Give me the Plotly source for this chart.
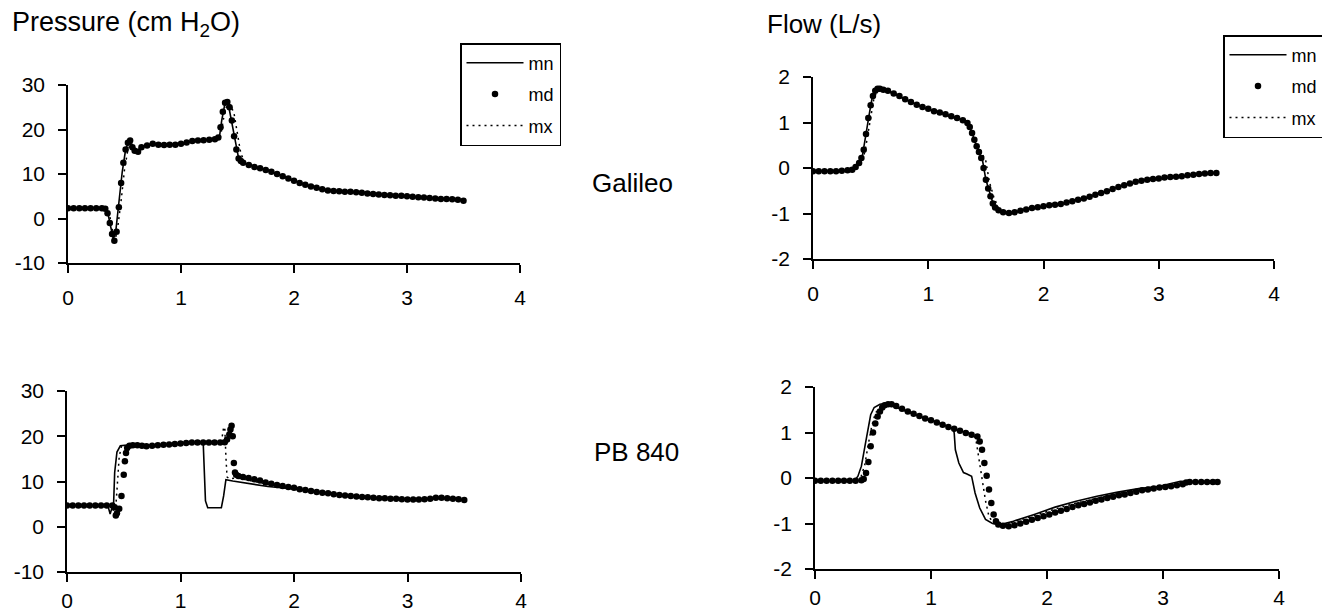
import plotly.graph_objects as go

# ---------------- data (time in s) ----------------
# Panel A: Galileo pressure (cm H2O)
mn_a = [(0.00,2.3),(0.33,2.3),(0.35,1.5),(0.38,-2.0),(0.40,-4.5),(0.42,-3.5),(0.45,3.0),(0.48,10.5),
        (0.51,15.5),(0.54,17.5),(0.57,15.8),(0.60,15.0),(0.63,15.5),(0.66,16.3),(0.72,16.5),(0.76,17.0),
        (0.79,16.6),(0.95,16.6),(1.02,16.8),(1.10,17.4),(1.30,17.8),(1.34,18.3),(1.36,22.0),(1.39,26.0),
        (1.42,25.5),(1.45,21.5),(1.48,17.0),(1.51,13.5),(1.55,12.5),(1.65,11.7),(1.77,10.8),(1.93,9.2),
        (2.09,7.7),(2.24,6.6),(2.34,6.2),(2.56,6.0),(2.72,5.5),(2.88,5.1),(3.03,5.0),(3.19,4.6),(3.35,4.4),(3.50,4.0)]
mx_a = [(0.00,2.3),(0.34,2.3),(0.37,0.5),(0.40,-3.5),(0.42,-4.5),(0.44,-2.0),(0.47,4.0),(0.50,11.0),
        (0.53,15.5),(0.56,17.0),(0.60,15.0),(0.64,15.8),(0.70,16.4),(0.80,16.6),(1.00,16.8),(1.10,17.4),
        (1.30,17.8),(1.35,18.5),(1.38,23.0),(1.41,25.8),(1.44,25.5),(1.47,23.5),(1.50,19.0),(1.53,14.5),
        (1.57,12.5),(1.65,11.7),(1.77,10.8),(1.93,9.2),(2.09,7.7),(2.24,6.6),(2.34,6.2),(2.56,6.0),
        (2.72,5.5),(2.88,5.1),(3.03,5.0),(3.19,4.6),(3.35,4.4),(3.50,4.0)]
md_a = [(0.00,2.3),(0.05,2.3),(0.10,2.3),(0.15,2.3),(0.20,2.3),(0.25,2.3),(0.30,2.3),(0.33,2.2),(0.35,1.2),
        (0.37,-1.0),(0.39,-3.5),(0.41,-5.0),(0.43,-3.0),(0.45,2.5),(0.47,8.0),(0.49,12.5),(0.51,15.5),
        (0.53,17.0),(0.55,17.5),(0.57,16.0),(0.59,15.2),(0.62,15.0),(0.65,16.0),(0.70,16.4),(0.75,16.8),
        (0.80,16.6),(0.85,16.5),(0.90,16.6),(0.95,16.6),(1.00,16.8),(1.05,17.1),(1.10,17.4),(1.15,17.5),
        (1.20,17.6),(1.25,17.7),(1.30,17.8),(1.33,18.2),(1.35,20.5),(1.37,24.0),(1.39,26.0),(1.41,26.2),
        (1.43,25.0),(1.45,22.0),(1.47,18.5),(1.49,15.5),(1.51,13.5),(1.53,12.9),(1.55,12.5),(1.60,12.0),
        (1.65,11.6),(1.70,11.3),(1.75,10.9),(1.80,10.5),(1.85,10.0),(1.90,9.5),(1.95,9.0),(2.00,8.5),
        (2.05,8.0),(2.10,7.6),(2.15,7.2),(2.20,6.9),(2.25,6.6),(2.30,6.3),(2.35,6.2),(2.40,6.1),(2.45,6.0),
        (2.50,6.0),(2.55,5.9),(2.60,5.8),(2.65,5.6),(2.70,5.5),(2.75,5.4),(2.80,5.3),(2.85,5.2),(2.90,5.1),
        (2.95,5.1),(3.00,5.0),(3.05,4.9),(3.10,4.8),(3.15,4.7),(3.20,4.6),(3.25,4.5),(3.30,4.4),(3.35,4.4),
        (3.40,4.3),(3.45,4.2),(3.50,4.0)]

# Panel B: PB 840 pressure (cm H2O)
mn_b = [(0.00,4.7),(0.36,4.7),(0.38,2.8),(0.40,4.5),(0.41,4.7),(0.42,12.0),(0.44,16.5),(0.47,17.9),
        (0.55,18.1),(0.65,17.9),(0.75,17.9),(0.85,18.1),(1.00,18.4),(1.10,18.6),(1.20,18.6),(1.21,11.0),
        (1.22,5.7),(1.24,4.2),(1.36,4.2),(1.38,6.8),(1.40,10.4),(1.46,10.1),(1.61,9.5),(1.77,8.9),
        (1.93,8.5),(2.09,8.0),(2.24,7.5),(2.40,7.0),(2.56,6.6),(2.72,6.4),(2.87,6.2),(3.03,6.0),
        (3.19,6.2),(3.35,6.3),(3.50,5.9)]
mx_b = [(0.00,4.7),(0.39,4.7),(0.41,3.5),(0.43,4.5),(0.44,8.0),(0.46,15.5),(0.48,17.8),(0.55,18.0),
        (0.75,17.9),(1.00,18.4),(1.20,18.6),(1.36,18.6),(1.38,22.0),(1.39,22.0),(1.40,15.5),(1.41,11.0),
        (1.43,10.6),(1.50,10.8),(1.61,10.2),(1.77,9.4),(1.93,8.8),(2.09,8.2),(2.24,7.6),(2.40,7.1),
        (2.56,6.7),(2.72,6.4),(2.87,6.2),(3.03,6.0),(3.19,6.2),(3.35,6.3),(3.50,5.9)]
md_b = [(0.00,4.7),(0.05,4.7),(0.10,4.7),(0.15,4.7),(0.20,4.7),(0.25,4.7),(0.30,4.7),(0.35,4.7),(0.40,4.7),
        (0.42,4.3),(0.43,2.5),(0.44,3.0),(0.46,4.0),(0.48,6.8),(0.50,11.5),(0.51,14.5),(0.52,16.3),
        (0.53,17.4),(0.55,17.9),(0.58,18.0),(0.62,18.0),(0.66,17.9),(0.70,17.8),(0.75,17.9),(0.80,18.0),
        (0.85,18.1),(0.90,18.2),(0.95,18.3),(1.00,18.4),(1.05,18.5),(1.10,18.6),(1.15,18.6),(1.20,18.6),
        (1.25,18.6),(1.30,18.6),(1.35,18.6),(1.39,18.7),(1.41,19.3),(1.43,20.4),(1.44,21.5),(1.45,22.3),
        (1.46,20.0),(1.47,14.1),(1.48,12.0),(1.49,11.5),(1.51,11.2),(1.55,11.0),(1.60,10.8),(1.65,10.5),
        (1.70,10.2),(1.75,9.8),(1.80,9.5),(1.85,9.2),(1.90,9.0),(1.95,8.8),(2.00,8.6),(2.05,8.3),
        (2.10,8.1),(2.15,7.9),(2.20,7.7),(2.25,7.5),(2.30,7.4),(2.35,7.2),(2.40,7.0),(2.45,6.9),(2.50,6.8),
        (2.55,6.7),(2.60,6.6),(2.65,6.5),(2.70,6.4),(2.75,6.3),(2.80,6.3),(2.85,6.2),(2.90,6.2),(2.95,6.1),
        (3.00,6.0),(3.05,6.0),(3.10,6.0),(3.15,6.1),(3.20,6.2),(3.25,6.4),(3.30,6.4),(3.35,6.3),(3.40,6.2),
        (3.45,6.1),(3.50,5.9)]

# Panel C: Galileo flow (L/s)
mn_c = [(0.00,-0.07),(0.33,-0.06),(0.35,-0.03),(0.40,0.11),(0.43,0.29),(0.45,0.62),(0.49,1.21),(0.51,1.50),
        (0.54,1.68),(0.57,1.74),(0.63,1.71),(0.72,1.61),(0.83,1.47),(0.94,1.34),(1.05,1.25),(1.16,1.17),
        (1.27,1.08),(1.34,0.99),(1.38,0.77),(1.43,0.40),(1.47,0.18),(1.50,-0.26),(1.54,-0.62),(1.57,-0.84),
        (1.63,-0.95),(1.70,-0.99),(1.81,-0.93),(1.95,-0.86),(2.10,-0.81),(2.28,-0.71),(2.46,-0.59),
        (2.64,-0.42),(2.82,-0.29),(3.00,-0.23),(3.19,-0.18),(3.37,-0.13),(3.49,-0.11)]
mx_c = [(0.00,-0.07),(0.35,-0.05),(0.41,0.08),(0.45,0.35),(0.47,0.65),(0.50,1.15),(0.53,1.55),(0.56,1.70),
        (0.59,1.73),(0.63,1.71),(0.72,1.61),(0.83,1.47),(0.94,1.34),(1.05,1.25),(1.16,1.17),(1.27,1.08),
        (1.34,0.99),(1.39,0.75),(1.45,0.40),(1.50,0.15),(1.53,-0.30),(1.57,-0.65),(1.61,-0.88),
        (1.66,-0.96),(1.72,-0.99),(1.81,-0.93),(1.95,-0.86),(2.10,-0.81),(2.28,-0.71),(2.46,-0.59),
        (2.64,-0.42),(2.82,-0.29),(3.00,-0.23),(3.19,-0.18),(3.37,-0.13),(3.49,-0.11)]
md_c = [(0.00,-0.07),(0.05,-0.07),(0.10,-0.07),(0.15,-0.07),(0.20,-0.07),(0.25,-0.06),(0.30,-0.05),
        (0.34,-0.04),(0.37,0.02),(0.40,0.11),(0.42,0.22),(0.44,0.40),(0.46,0.75),(0.48,1.10),(0.50,1.38),
        (0.52,1.58),(0.54,1.70),(0.56,1.74),(0.58,1.74),(0.61,1.72),(0.65,1.70),(0.70,1.64),(0.75,1.58),
        (0.80,1.51),(0.85,1.45),(0.90,1.39),(0.95,1.34),(1.00,1.30),(1.05,1.25),(1.10,1.22),(1.15,1.18),
        (1.20,1.14),(1.25,1.10),(1.30,1.05),(1.34,0.99),(1.36,0.90),(1.38,0.77),(1.40,0.62),(1.42,0.48),
        (1.44,0.35),(1.46,0.22),(1.48,0.00),(1.50,-0.26),(1.52,-0.45),(1.54,-0.62),(1.56,-0.78),
        (1.58,-0.87),(1.61,-0.93),(1.65,-0.97),(1.70,-0.99),(1.75,-0.97),(1.80,-0.94),(1.85,-0.91),
        (1.90,-0.88),(1.95,-0.86),(2.00,-0.84),(2.05,-0.82),(2.10,-0.81),(2.15,-0.79),(2.20,-0.76),
        (2.25,-0.73),(2.30,-0.70),(2.35,-0.67),(2.40,-0.63),(2.45,-0.59),(2.50,-0.55),(2.55,-0.51),
        (2.60,-0.46),(2.65,-0.42),(2.70,-0.38),(2.75,-0.34),(2.80,-0.30),(2.85,-0.28),(2.90,-0.26),
        (2.95,-0.24),(3.00,-0.23),(3.05,-0.21),(3.10,-0.20),(3.15,-0.19),(3.20,-0.18),(3.25,-0.16),
        (3.30,-0.15),(3.35,-0.13),(3.40,-0.12),(3.45,-0.11),(3.50,-0.11)]

# Panel D: PB 840 flow (L/s)
mn_d = [(0.00,-0.06),(0.34,-0.06),(0.37,0.04),(0.40,0.26),(0.43,0.69),(0.46,1.13),(0.48,1.39),(0.51,1.55),
        (0.56,1.62),(0.61,1.64),(0.70,1.55),(0.81,1.44),(0.99,1.28),(1.13,1.15),(1.19,1.09),(1.20,0.99),
        (1.21,0.62),(1.24,0.33),(1.28,0.12),(1.31,0.09),(1.35,0.04),(1.38,-0.33),(1.42,-0.66),(1.47,-0.91),
        (1.53,-1.00),(1.60,-1.02),(1.71,-0.95),(1.89,-0.80),(2.07,-0.64),(2.25,-0.51),(2.43,-0.40),
        (2.61,-0.31),(2.79,-0.23),(2.97,-0.18),(3.07,-0.11),(3.15,-0.07),(3.47,-0.09)]
mx_d = [(0.00,-0.06),(0.37,-0.06),(0.40,0.05),(0.43,0.30),(0.46,0.75),(0.49,1.15),(0.52,1.42),(0.56,1.56),
        (0.61,1.62),(0.70,1.55),(0.81,1.45),(0.99,1.29),(1.13,1.16),(1.30,1.02),(1.37,0.96),(1.39,0.80),
        (1.41,0.45),(1.44,0.00),(1.47,-0.50),(1.50,-0.85),(1.54,-1.00),(1.60,-1.03),(1.71,-0.97),
        (1.89,-0.83),(2.07,-0.68),(2.25,-0.55),(2.43,-0.44),(2.61,-0.34),(2.79,-0.26),(2.97,-0.20),
        (3.10,-0.15),(3.12,-0.10),(3.47,-0.09)]
md_d = [(0.00,-0.06),(0.05,-0.06),(0.10,-0.06),(0.15,-0.06),(0.20,-0.06),(0.25,-0.06),(0.30,-0.06),
        (0.35,-0.06),(0.40,-0.05),(0.42,-0.02),(0.44,0.11),(0.46,0.35),(0.48,0.70),(0.50,1.00),(0.52,1.20),
        (0.54,1.35),(0.56,1.46),(0.58,1.55),(0.60,1.60),(0.63,1.62),(0.66,1.62),(0.70,1.58),(0.75,1.52),
        (0.80,1.46),(0.85,1.41),(0.90,1.36),(0.95,1.31),(1.00,1.27),(1.05,1.22),(1.10,1.17),(1.15,1.12),
        (1.20,1.08),(1.25,1.04),(1.30,0.99),(1.35,0.95),(1.40,0.91),(1.42,0.80),(1.44,0.62),(1.46,0.33),
        (1.48,0.05),(1.50,-0.25),(1.52,-0.55),(1.54,-0.80),(1.56,-0.95),(1.58,-1.02),(1.62,-1.05),
        (1.67,-1.06),(1.72,-1.04),(1.77,-1.00),(1.82,-0.96),(1.87,-0.92),(1.92,-0.88),(1.97,-0.84),
        (2.02,-0.80),(2.07,-0.76),(2.12,-0.72),(2.17,-0.68),(2.22,-0.64),(2.27,-0.60),(2.32,-0.57),
        (2.37,-0.54),(2.42,-0.50),(2.47,-0.47),(2.52,-0.44),(2.57,-0.41),(2.62,-0.38),(2.67,-0.36),
        (2.72,-0.33),(2.77,-0.30),(2.82,-0.27),(2.87,-0.25),(2.92,-0.23),(2.97,-0.21),(3.02,-0.20),
        (3.07,-0.18),(3.12,-0.16),(3.17,-0.14),(3.20,-0.10),(3.23,-0.09),(3.28,-0.09),(3.33,-0.09),
        (3.38,-0.09),(3.43,-0.09),(3.47,-0.09)]

series_names = ["mn", "md", "mx"]
x_ticks = [0, 1, 2, 3, 4]
pressure_ticks = [-10, 0, 10, 20, 30]
pressure_labels = ["-10", "0", "10", "20", "30"]
flow_ticks = [-2, -1, 0, 1, 2]
flow_labels = ["-2", "-1", "0", "1", "2"]
panel_titles = ["Pressure (cm H<sub>2</sub>O)", "Flow (L/s)"]
row_labels = ["Galileo", "PB 840"]

# ---------------- figure ----------------
# the page body has an 8 px margin: the figure starts at (8, 8) in the 1330x614 window
OFF = 8
W, H = 1330 - OFF, 614 - OFF
FONT = "Liberation Sans, Arial, sans-serif"


def fx(px):
    return (px - OFF) / W


def fy(py):
    return 1 - (py - OFF) / H


panels = [
    ((mn_a, md_a, mx_a), "x", "y", (68, 520), (85, 263), [-10, 30], pressure_ticks, pressure_labels, "legend", 7),
    ((mn_b, md_b, mx_b), "x2", "y2", (67, 521), (391, 572), [-10, 30], pressure_ticks, pressure_labels, None, 1),
    ((mn_c, md_c, mx_c), "x3", "y3", (813, 1274), (77, 259), [-2, 2], flow_ticks, flow_labels, "legend2", 7),
    ((mn_d, md_d, mx_d), "x4", "y4", (815, 1279), (387, 569), [-2, 2], flow_ticks, flow_labels, None, 1),
]

fig = go.Figure()
layout_axes = {}
for i, (data, xa, ya, xpx, ypx, yr, yt, ytl, leg, xstand) in enumerate(panels):
    mn, md, mx = data
    show = leg is not None
    lg = leg if leg else "legend"
    fig.add_trace(go.Scatter(
        x=[p[0] for p in md], y=[p[1] for p in md], mode="markers", name=series_names[1],
        marker=dict(color="black", size=6.5), xaxis=xa, yaxis=ya, showlegend=show,
        legend=lg, legendrank=2, legendgroup=f"b_md{i}"))
    fig.add_trace(go.Scatter(
        x=[p[0] for p in mx], y=[p[1] for p in mx], mode="lines", name=series_names[2],
        line=dict(color="black", width=1.5, dash="2px,4px"), xaxis=xa, yaxis=ya, showlegend=show,
        legend=lg, legendrank=3, legendgroup=f"c_mx{i}"))
    fig.add_trace(go.Scatter(
        x=[p[0] for p in mn], y=[p[1] for p in mn], mode="lines", name=series_names[0],
        line=dict(color="black", width=1.6), xaxis=xa, yaxis=ya, showlegend=show,
        legend=lg, legendrank=1, legendgroup=f"a_mn{i}"))

    xname = "xaxis" + ("" if xa == "x" else xa[1:])
    yname = "yaxis" + ("" if ya == "y" else ya[1:])
    layout_axes[xname] = dict(
        domain=[fx(xpx[0]), fx(xpx[1])], anchor=ya, range=[0, 4], tickvals=x_ticks,
        ticktext=[str(v) for v in x_ticks], automargin=False,
        showline=True, linecolor="black", linewidth=1.5, ticks="outside", ticklen=8,
        tickwidth=1.5, tickcolor="black", showgrid=False, zeroline=False,
        tickfont=dict(family=FONT, size=21, color="black"), ticklabelstandoff=xstand)
    layout_axes[yname] = dict(
        domain=[fy(ypx[1]), fy(ypx[0])], anchor=xa, range=yr, tickvals=yt,
        ticktext=ytl, automargin=False,
        showline=True, linecolor="black", linewidth=1.5, ticks="outside", ticklen=8,
        tickwidth=1.5, tickcolor="black", showgrid=False, zeroline=False,
        tickfont=dict(family=FONT, size=21, color="black"), ticklabelstandoff=9)

legend_style = dict(
    bgcolor="white", bordercolor="black", borderwidth=1.5, xref="paper", yref="paper",
    xanchor="left", yanchor="top", font=dict(family=FONT, size=18, color="black"),
    itemwidth=57, tracegroupgap=5, traceorder="grouped")

fig.update_layout(
    template="none",
    width=W, height=H, margin=dict(l=0, r=0, t=0, b=0, autoexpand=False),
    paper_bgcolor="white", plot_bgcolor="white",
    font=dict(family=FONT, color="black"),
    legend=dict(x=fx(460), y=fy(43), **legend_style),
    legend2=dict(x=fx(1223), y=fy(35), **legend_style),
    **layout_axes,
)

annots = [
    (panel_titles[0], 10, 24, 27),
    (panel_titles[1], 765, 24, 26),
    (row_labels[0], 590, 183, 26),
    (row_labels[1], 592, 452, 26),
]
for text, px, py, fs in annots:
    fig.add_annotation(text=text, x=fx(px), y=fy(py), xref="paper", yref="paper",
                       xanchor="left", yanchor="middle", showarrow=False,
                       font=dict(family=FONT, size=fs, color="black"))

fig.write_html("out.html")
